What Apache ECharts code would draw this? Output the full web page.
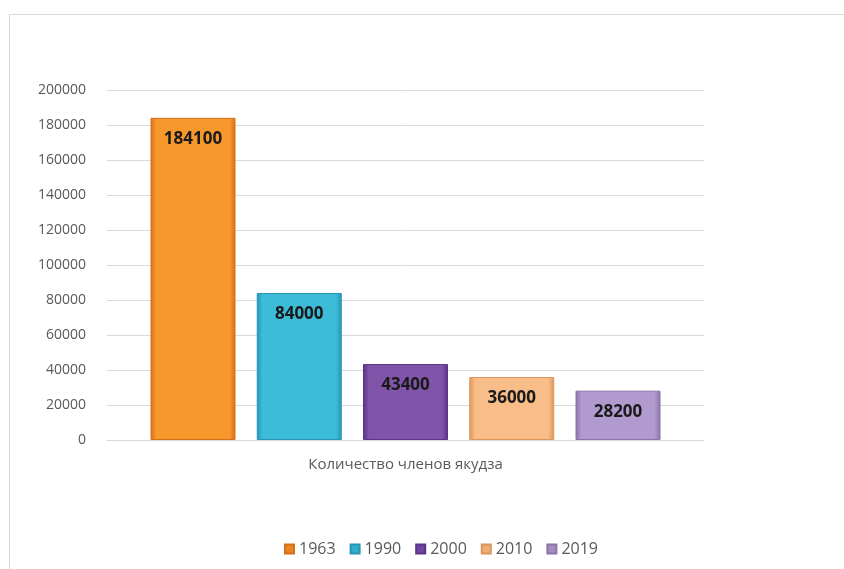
<!DOCTYPE html>
<html><head><meta charset="utf-8">
<script src="https://cdn.jsdelivr.net/npm/echarts@6/dist/echarts.min.js"></script>
<style>
html,body{margin:0;padding:0;background:#fff;}
#frame{position:absolute;left:9px;top:14px;width:900px;height:600px;border:1px solid #d9d9d9;box-sizing:border-box;}
#c{position:absolute;left:0;top:0;width:844px;height:569px;}
</style></head>
<body><div id="frame"></div><div id="c"></div>
<script>
const categories = ['Количество членов якудза'];
const years = ['1963', '1990', '2000', '2010', '2019'];
const values = [184100, 84000, 43400, 36000, 28200];
const yTicks = [0, 20000, 40000, 60000, 80000, 100000, 120000, 140000, 160000, 180000, 200000];

const palette = [
  ['#d4701a', '#f7982c', '#d4701a'],
  ['#2694b3', '#3dbcda', '#2694b3'],
  ['#5b3485', '#7f54a9', '#5b3485'],
  ['#dd955a', '#f8bd88', '#dd955a'],
  ['#8a73a8', '#b19bce', '#8a73a8']
];
const legendColors = ['#e8851f', '#33aed0', '#6d45a0', '#eeae73', '#a28cc2'];

const chart = echarts.init(document.getElementById('c'));
chart.setOption({
  animation: false,
  textStyle: {fontFamily: 'Open Sans'},
  grid: {left: 107, right: 140, top: 90, bottom: 129},
  legend: {
    bottom: 12, left: 284, padding: 0,
    itemWidth: 9, itemHeight: 9, itemGap: 14,
    icon: 'rect',
    textStyle: {color: '#595959', fontSize: 16, fontFamily: 'Open Sans'},
    data: years.map((y, i) => ({name: y, itemStyle: {color: legendColors[i]}}))
  },
  xAxis: {
    type: 'category', data: categories,
    axisLine: {lineStyle: {color: '#d9d9d9'}},
    axisTick: {show: false},
    axisLabel: {color: '#595959', fontSize: 15, margin: 17}
  },
  yAxis: {
    type: 'value', min: 0, max: 200000, interval: 20000,
    axisLine: {show: false}, axisTick: {show: false},
    splitLine: {lineStyle: {color: '#d9d9d9'}},
    axisLabel: {color: '#595959', fontSize: 14, margin: 21,
      formatter: v => yTicks.includes(v) ? String(v) : ''}
  },
  series: years.map((y, i) => ({
    name: y, type: 'bar', data: [values[i]],
    barWidth: 85, barGap: '25%',
    itemStyle: {
      color: new echarts.graphic.LinearGradient(0, 0, 1, 0, [
        {offset: 0, color: palette[i][0]},
        {offset: 0.07, color: palette[i][1]},
        {offset: 0.93, color: palette[i][1]},
        {offset: 1, color: palette[i][2]}
      ]),
      borderColor: palette[i][0], borderWidth: 1
    },
    label: {show: true, position: 'insideTop', distance: 13,
      color: '#1a1a1a', fontWeight: 'bold', fontSize: 17, fontFamily: 'Open Sans'}
  }))
});
</script></body></html>
